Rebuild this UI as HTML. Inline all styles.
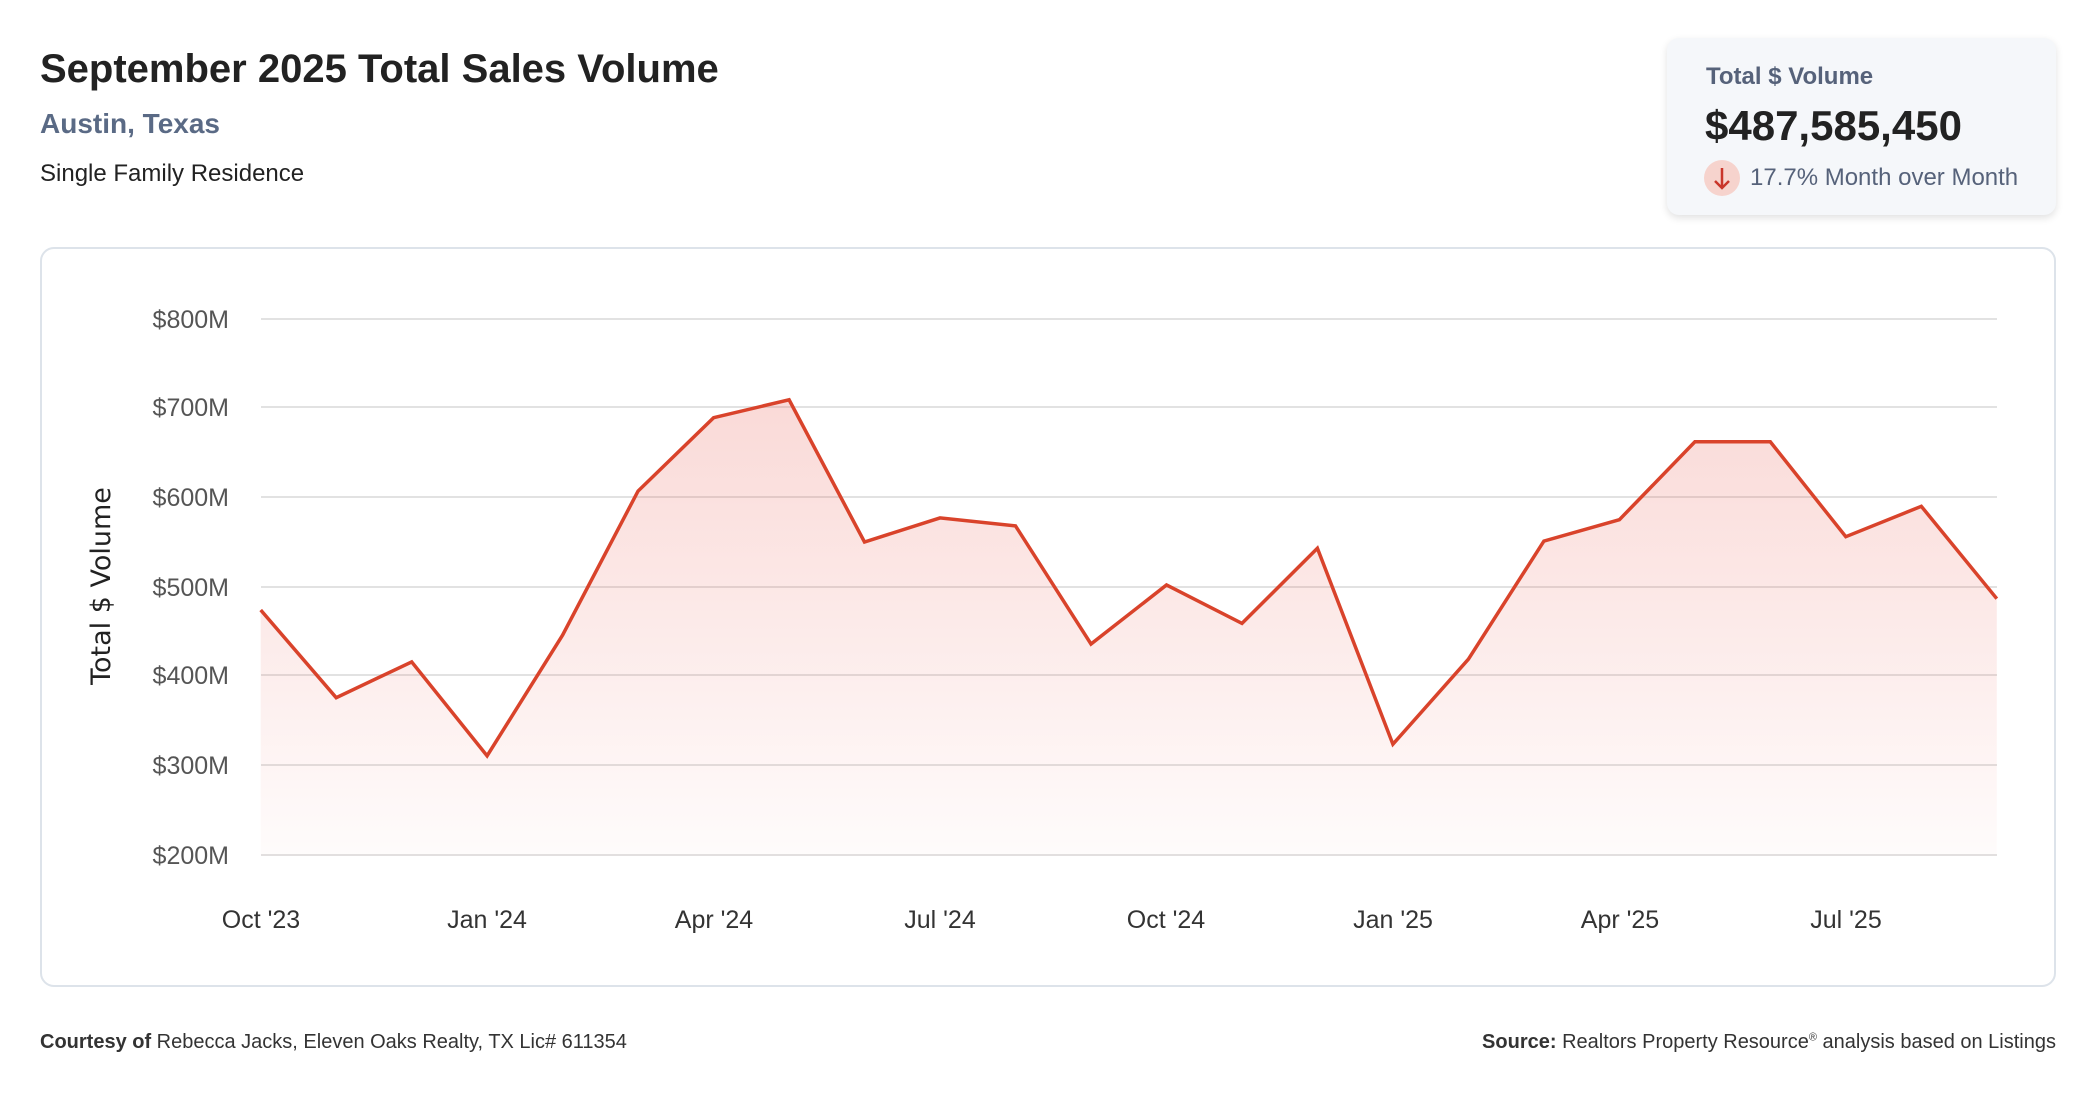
<!DOCTYPE html>
<html><head><meta charset="utf-8">
<style>
html,body{margin:0;padding:0;background:#fff;}
body{width:2096px;height:1100px;position:relative;overflow:hidden;font-family:"Liberation Sans",sans-serif;}
.t{position:absolute;white-space:nowrap;}
</style></head><body>
<div class="t" style="left:40px;top:47px;font-size:40px;font-weight:bold;color:#222;">September 2025 Total Sales Volume</div>
<div class="t" style="left:40px;top:108px;font-size:28px;font-weight:bold;color:#5a6a85;">Austin, Texas</div>
<div class="t" style="left:40px;top:160px;font-size:24px;color:#222;">Single Family Residence</div>

<div style="position:absolute;left:1667px;top:38px;width:389px;height:177px;background:#f5f7fa;border-radius:12px;box-shadow:0 3px 8px rgba(0,0,0,0.12);"></div>
<div class="t" style="left:1706px;top:63px;font-size:24px;font-weight:bold;color:#56627a;">Total $ Volume</div>
<div class="t" style="left:1705px;top:102px;font-size:42px;font-weight:bold;color:#222;">$487,585,450</div>
<div style="position:absolute;left:1704px;top:160px;width:36px;height:36px;border-radius:50%;background:#f6d3cd;"></div>
<svg style="position:absolute;left:1704px;top:160px" width="36" height="36"><path d="M18 8 V28 M11 21 L18 28 L25 21" stroke="#c9352a" stroke-width="2.5" fill="none"/></svg>
<div class="t" style="left:1750px;top:164px;font-size:24px;color:#56627a;">17.7% Month over Month</div>

<div style="position:absolute;left:40px;top:247px;width:2012px;height:736px;border:2px solid #dde3ea;border-radius:14px;"></div>

<svg style="position:absolute;left:0;top:0" width="2096" height="1100">
<defs><linearGradient id="g" x1="0" y1="399" x2="0" y2="856" gradientUnits="userSpaceOnUse">
<stop offset="0" stop-color="#e8554a" stop-opacity="0.22"/><stop offset="1" stop-color="#e8554a" stop-opacity="0.02"/></linearGradient></defs>
<g stroke="#e2e2e2" stroke-width="2">
<line x1="261" x2="1997" y1="319" y2="319"/><line x1="261" x2="1997" y1="407" y2="407"/>
<line x1="261" x2="1997" y1="497" y2="497"/><line x1="261" x2="1997" y1="587" y2="587"/>
<line x1="261" x2="1997" y1="675" y2="675"/><line x1="261" x2="1997" y1="765" y2="765"/>
<line x1="261" x2="1997" y1="855" y2="855"/></g>
<g font-family="Liberation Sans, sans-serif" font-size="25" fill="#555" text-anchor="end">
<text x="229" y="328">$800M</text><text x="229" y="416">$700M</text><text x="229" y="506">$600M</text>
<text x="229" y="596">$500M</text><text x="229" y="684">$400M</text><text x="229" y="774">$300M</text><text x="229" y="864">$200M</text></g>
<text transform="translate(110,586) rotate(-90)" text-anchor="middle" font-family="DejaVu Sans, sans-serif" font-size="27" fill="#222">Total $ Volume</text>
<polygon fill="url(#g)" points="260.7,856 260.7,610 336.2,697.7 411.7,661.9 487.1,755.8 562.6,635.1 638.1,491 713.6,417.7 789.1,399.8 864.5,542 940,517.9 1015.5,525.9 1091,644 1166.5,585 1242,623.4 1317.4,548.3 1392.9,744.2 1468.4,659.2 1543.9,541.1 1619.4,519.7 1694.9,441.8 1770.3,441.8 1845.8,536.7 1921.3,506.3 1996.8,598.7 1996.8,856"/>
<polyline fill="none" stroke="#d9432b" stroke-width="3.5" stroke-linejoin="miter" points="260.7,610 336.2,697.7 411.7,661.9 487.1,755.8 562.6,635.1 638.1,491 713.6,417.7 789.1,399.8 864.5,542 940,517.9 1015.5,525.9 1091,644 1166.5,585 1242,623.4 1317.4,548.3 1392.9,744.2 1468.4,659.2 1543.9,541.1 1619.4,519.7 1694.9,441.8 1770.3,441.8 1845.8,536.7 1921.3,506.3 1996.8,598.7"/>
<g font-family="Liberation Sans, sans-serif" font-size="25" fill="#333" text-anchor="middle">
<text x="261" y="928">Oct '23</text><text x="487" y="928">Jan '24</text><text x="714" y="928">Apr '24</text>
<text x="940" y="928">Jul '24</text><text x="1166" y="928">Oct '24</text><text x="1393" y="928">Jan '25</text>
<text x="1620" y="928">Apr '25</text><text x="1846" y="928">Jul '25</text></g>
</svg>

<div class="t" style="left:40px;top:1031px;font-size:20px;color:#333;"><b>Courtesy of</b> Rebecca Jacks, Eleven Oaks Realty, TX Lic# 611354</div>
<div class="t" style="right:40px;top:1031px;font-size:20px;color:#333;"><b>Source:</b> Realtors Property Resource<sup style="font-size:11px">®</sup> analysis based on Listings</div>
</body></html>
